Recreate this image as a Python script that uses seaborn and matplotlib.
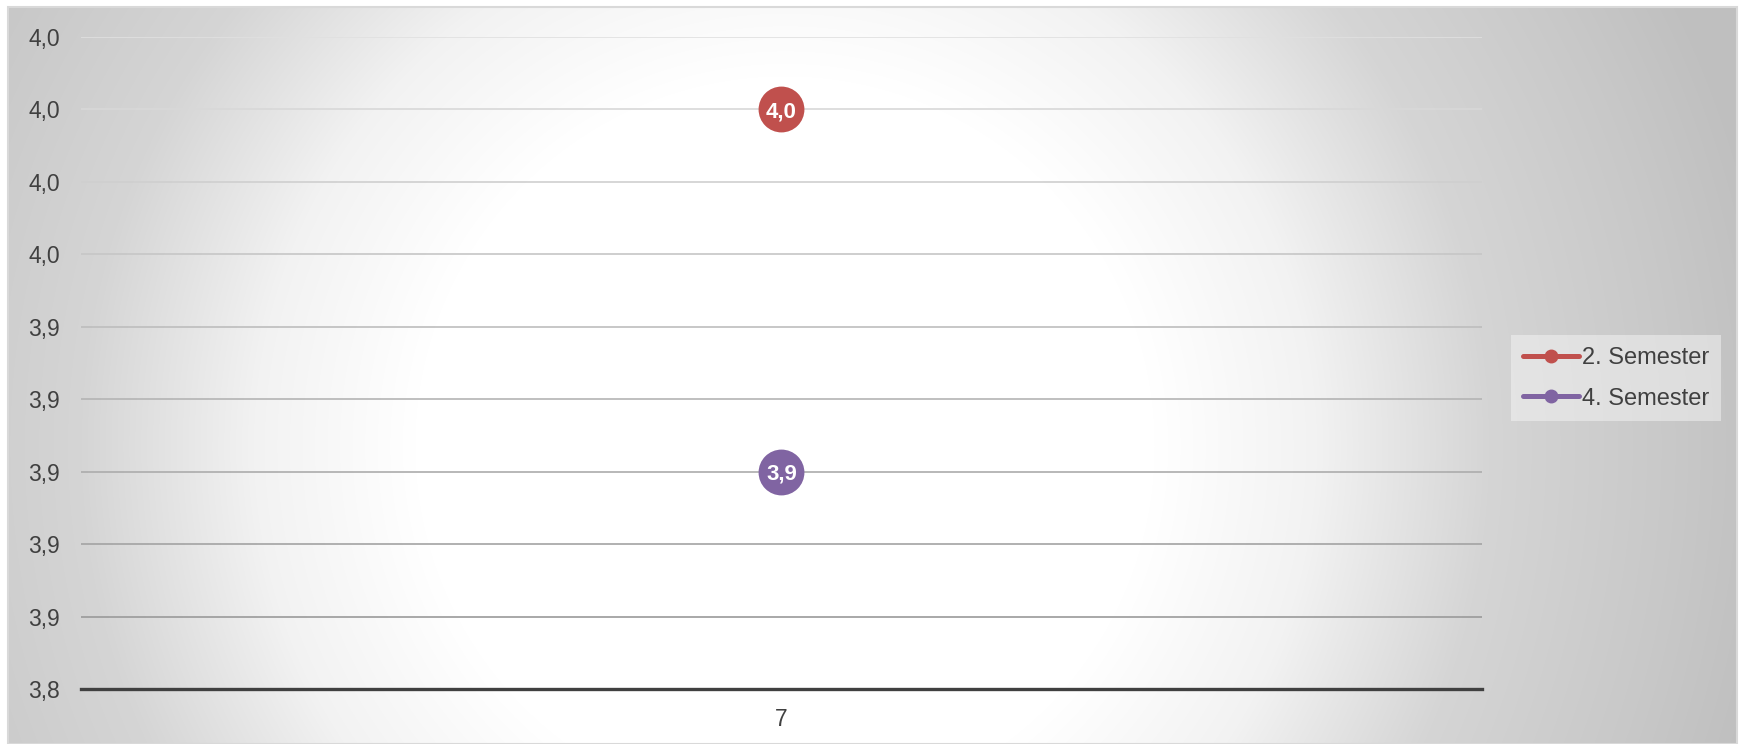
import numpy as np
import pandas as pd
import matplotlib
matplotlib.use("Agg")
import matplotlib.pyplot as plt
from matplotlib.lines import Line2D
from matplotlib.ticker import FuncFormatter
import seaborn as sns

# ── Data ─────────────────────────────────────────────────────────────────────
categories = ["7"]
series_names = ["2. Semester", "4. Semester"]
values_2sem = [4.00]
values_4sem = [3.90]
y_ticks = [3.84, 3.86, 3.88, 3.90, 3.92, 3.94, 3.96, 3.98, 4.00, 4.02]

# ── Style ────────────────────────────────────────────────────────────────────
PALETTE = {"2. Semester": "#C0504D", "4. Semester": "#8064A2"}
TEXT_COL = "#404040"

sns.set_theme(style="white")
plt.rcParams["font.family"] = ["Liberation Sans", "DejaVu Sans"]

df = pd.DataFrame({
    "Klasse": categories * 2,
    "Wert": values_2sem + values_4sem,
    "Semester": [series_names[0]] * len(values_2sem) + [series_names[1]] * len(values_4sem),
})

W, H, DPI = 1741, 744, 100
fig = plt.figure(figsize=(W / DPI, H / DPI), dpi=DPI)
fig.patch.set_facecolor("white")

# radial gradient chart area background
bg = fig.add_axes([8 / W, 0, (1737 - 8) / W, (H - 7) / H])
bw, bh = 1737 - 8, H - 7
xx, yy = np.meshgrid(np.arange(bw) + 8, np.arange(bh) + 7)
d = np.hypot(xx - 785, yy - 446)
v = np.interp(d, [0, 370, 530, 704, 888, 1000], [1.0, 1.0, 0.95, 0.835, 0.785, 0.75])
bg.imshow(np.dstack([v, v, v]), aspect="auto", extent=(0, 1, 0, 1), origin="upper")
bg.set_xlim(0, 1)
bg.set_ylim(0, 1)
bg.axis("off")
fig.add_artist(plt.Rectangle((8 / W, 0), (1737 - 8) / W, (H - 7) / H, fill=False,
                             edgecolor="#d9d9d9", lw=1.5, transform=fig.transFigure))

# ── Plot ─────────────────────────────────────────────────────────────────────
ax = fig.add_axes([81 / W, 55 / H, (1482 - 81) / W, (707 - 55) / H])
ax.patch.set_alpha(0)

# gridlines, lighter towards the top
grid_cols = np.linspace(0.57, 0.88, len(y_ticks))
for t, c in zip(y_ticks[1:], grid_cols[1:]):
    ax.axhline(t, color=(c, c, c), lw=1.2, zorder=1)

sns.lineplot(data=df, x="Klasse", y="Wert", hue="Semester", palette=PALETTE,
             marker="o", markersize=33, markeredgewidth=0, linewidth=3.5,
             legend=False, ax=ax, zorder=3)

for name, vals in zip(series_names, [values_2sem, values_4sem]):
    for i, val in enumerate(vals):
        ax.text(i, val, f"{val:.1f}".replace(".", ","), color="white",
                fontsize=16, fontweight="bold", ha="center", va="center_baseline", zorder=4)

ax.set_xlim(-0.5, len(categories) - 0.5)
ax.set_ylim(y_ticks[0], y_ticks[-1])
ax.set_yticks(y_ticks)
ax.yaxis.set_major_formatter(FuncFormatter(lambda t, _: f"{t:.1f}".replace(".", ",")))
ax.set_xlabel("")
ax.set_ylabel("")
ax.tick_params(axis="both", length=0, labelsize=16.5, labelcolor=TEXT_COL)
ax.tick_params(axis="y", pad=15)
ax.tick_params(axis="x", pad=14)

for s in ["top", "right", "left"]:
    ax.spines[s].set_visible(False)
ax.spines["bottom"].set_color(TEXT_COL)
ax.spines["bottom"].set_linewidth(2.4)
ax.spines["bottom"].set_zorder(2)

handles = [Line2D([0], [0], color=PALETTE[n], lw=3.6, marker="o", markersize=9)
           for n in series_names]
leg = fig.legend(handles=handles, labels=series_names, loc="upper left",
                 bbox_to_anchor=(1511 / W, 1 - 335 / H), frameon=True, fancybox=False,
                 fontsize=17, labelcolor=TEXT_COL, handlelength=2.4,
                 handletextpad=0.1, labelspacing=0.8, borderpad=0.5, borderaxespad=0)
leg.get_frame().set_facecolor("#f5f5f5")
leg.get_frame().set_alpha(0.5)
leg.get_frame().set_edgecolor("none")

fig.savefig("out.png", dpi=DPI, facecolor="white")
